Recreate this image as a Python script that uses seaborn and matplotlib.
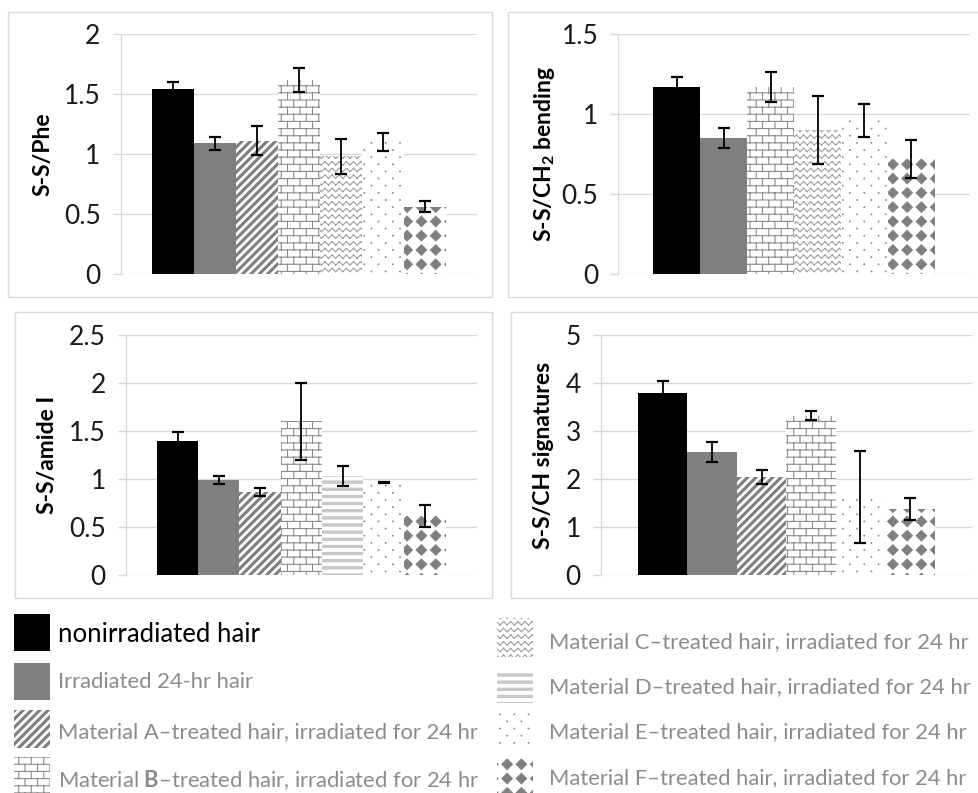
import numpy as np
import pandas as pd
import matplotlib
matplotlib.use("Agg")
import matplotlib.pyplot as plt
import matplotlib.hatch as mhatch
from matplotlib.path import Path
from matplotlib.patches import Rectangle
from matplotlib.ticker import FuncFormatter
import seaborn as sns

# ---------------- data ----------------
phe_groups = ["nonirradiated", "irradiated", "A", "B", "C", "E", "F"]
phe_vals = [1.54, 1.09, 1.11, 1.62, 0.98, 1.10, 0.56]
phe_errs = [0.06, 0.055, 0.12, 0.10, 0.145, 0.075, 0.045]

ch2_groups = ["nonirradiated", "irradiated", "B", "C", "E", "F"]
ch2_vals = [1.17, 0.85, 1.17, 0.90, 0.96, 0.72]
ch2_errs = [0.06, 0.06, 0.095, 0.21, 0.105, 0.12]

amide_groups = ["nonirradiated", "irradiated", "A", "B", "D", "E", "F"]
amide_vals = [1.40, 0.99, 0.865, 1.60, 1.03, 0.96, 0.61]
amide_errs = [0.09, 0.04, 0.04, 0.40, 0.105, 0.006, 0.115]

ch_groups = ["nonirradiated", "irradiated", "A", "B", "E", "F"]
ch_vals = [3.80, 2.56, 2.04, 3.32, 1.63, 1.37]
ch_errs = [0.25, 0.21, 0.15, 0.10, 0.96, 0.23]

ylabels = ["S-S/Phe", r"S-S/CH$_\mathbf{2}$ bending", "S-S/amide I", "S-S/CH signatures"]
ymaxes = [2.0, 1.5, 2.5, 5.0]
ysteps = [0.5, 0.5, 0.5, 1.0]

legend_left = ["nonirradiated", "irradiated", "A", "B"]
legend_right = ["C", "D", "E", "F"]
legend_text = {
    "nonirradiated": "nonirradiated hair",
    "irradiated": "Irradiated 24-hr hair",
    "A": "Material A\u2013treated hair, irradiated for 24 hr",
    "B": "Material $\\mathbf{B}$\u2013treated hair, irradiated for 24 hr",
    "C": "Material C\u2013treated hair, irradiated for 24 hr",
    "D": "Material D\u2013treated hair, irradiated for 24 hr",
    "E": "Material E\u2013treated hair, irradiated for 24 hr",
    "F": "Material F\u2013treated hair, irradiated for 24 hr",
}

# ---------------- styles ----------------
styles = {
    "nonirradiated": dict(fc="#000000", hatch=None, hc="#000000"),
    "irradiated": dict(fc="#7f7f7f", hatch=None, hc="#7f7f7f"),
    "A": dict(fc="white", hatch="/", hc="#7f7f7f"),
    "B": dict(fc="white", hatch="|", hc="#8c8c8c"),
    "C": dict(fc="white", hatch="\\", hc="#a0a0a0"),
    "D": dict(fc="white", hatch="-", hc="#c8c8c8"),
    "E": dict(fc="white", hatch=".", hc="#8c8c8c"),
    "F": dict(fc="white", hatch="*", hc="#7f7f7f"),
}


# ---------------- custom hatch tiles ----------------
def _polys(polys):
    vs, cs = [], []
    for p in polys:
        p = np.asarray(p, float)
        vs.append(np.vstack([p, p[:1]]))
        c = np.full(len(p) + 1, Path.LINETO, dtype=Path.code_type)
        c[0] = Path.MOVETO
        c[-1] = Path.CLOSEPOLY
        cs.append(c)
    return np.vstack(vs), np.concatenate(cs)


def _segs(segs):
    v = np.asarray(segs, float).reshape(-1, 2)
    c = np.tile(np.array([Path.MOVETO, Path.LINETO], dtype=Path.code_type), len(segs))
    return v, c


class _TileHatch(mhatch.HatchPatternBase):
    char = ""

    def __init__(self, hatch, density):
        self.num_vertices = 0
        if self.char and self.char in hatch:
            self._v, self._c = self.build()
            self.num_vertices = len(self._v)

    def set_vertices_and_codes(self, vertices, codes):
        vertices[:] = self._v
        codes[:] = self._c


class StripeHatch(_TileHatch):
    char = "/"

    def build(self):
        n, d, e = 12, 0.014, 0.1
        polys = []
        for k in range(-n - 2, n + 3):
            s = k / n
            polys.append([(s - d - e, -e), (s + d - e, -e),
                          (s + d + 1 + e, 1 + e), (s - d + 1 + e, 1 + e)])
        return _polys(polys)


class BrickHatch(_TileHatch):
    char = "|"

    def build(self):
        R, C = 14, 8
        segs = [((-0.05, r / R), (1.05, r / R)) for r in range(R + 1)]
        for r in range(R):
            sh = 0.5 if r % 2 else 0.0
            for c in range(-1, C + 2):
                x = (c + sh) / C
                segs.append(((x, r / R), (x, (r + 1) / R)))
        return _segs(segs)


class ZigzagHatch(_TileHatch):
    char = "\\"

    def build(self):
        R, P, a = 15, 14, 0.017
        segs = []
        for r in range(-1, R + 1):
            y0 = (r + 0.5) / R
            for p in range(-1, P + 1):
                x0, xm, x1 = p / P, (p + 0.5) / P, (p + 1) / P
                segs.append(((x0, y0 - a), (xm, y0 + a)))
                segs.append(((xm, y0 + a), (x1, y0 - a)))
        return _segs(segs)


class HLineHatch(_TileHatch):
    char = "-"

    def build(self):
        R, h = 14, 0.011
        polys = []
        for r in range(-1, R + 1):
            y = (r + 0.5) / R
            polys.append([(-0.05, y - h), (1.05, y - h), (1.05, y + h), (-0.05, y + h)])
        return _polys(polys)


class DotHatch(_TileHatch):
    char = "."

    def build(self):
        N, rr = 7, 0.004
        ang = np.linspace(0, 2 * np.pi, 8, endpoint=False)
        base = np.c_[np.cos(ang), np.sin(ang)] * rr
        polys = []
        for i in range(-1, N + 2):
            for j in range(-1, N + 2):
                polys.append(base + [i / N, j / N])
                polys.append(base + [(i + 0.5) / N, (j + 0.5) / N])
        return _polys(polys)


class DiamondHatch(_TileHatch):
    char = "*"

    def build(self):
        N, rr = 7, 0.052
        base = np.array([(rr, 0), (0, rr), (-rr, 0), (0, -rr)])
        polys = []
        for i in range(-1, N + 2):
            for j in range(-1, N + 2):
                polys.append(base + [(i + 0.5) / N, (j + 0.5) / N])
        return _polys(polys)


mhatch._hatch_types = [StripeHatch, BrickHatch, ZigzagHatch, HLineHatch, DotHatch, DiamondHatch]

# ---------------- theme ----------------
sns.set_theme(style="white")
plt.rcParams["font.family"] = ["Lato", "DejaVu Sans"]
plt.rcParams["hatch.linewidth"] = 0.8
plt.rcParams["mathtext.fontset"] = "custom"
plt.rcParams["mathtext.rm"] = "Lato"
plt.rcParams["mathtext.bf"] = "Lato:bold"
plt.rcParams["mathtext.it"] = "Lato:italic"

W, H = 979, 793
fig = plt.figure(figsize=(W / 100, H / 100), dpi=100)

# layout (pixels from top-left)
panel_boxes = [(8, 12, 491.7, 296.7), (508.3, 12, 990, 296.7),
               (15, 312, 491.7, 598.3), (510.7, 312, 990, 598.3)]
axes_px = [(120.7, 34, 477, 274), (618.3, 34, 970, 274),
           (126, 335, 476.7, 575), (601, 335, 971.7, 575)]
label_right_px = [53, 557, 58, 554]

ax_bg = fig.add_axes([0, 0, 1, 1], zorder=0)
ax_bg.set_xlim(0, W)
ax_bg.set_ylim(H, 0)
ax_bg.axis("off")
for (x0, y0, x1, y1) in panel_boxes:
    ax_bg.add_patch(Rectangle((x0, y0), x1 - x0, y1 - y0, fill=False,
                              ec="#d9d9d9", lw=1.0, clip_on=False))

panel_data = [(phe_groups, phe_vals, phe_errs), (ch2_groups, ch2_vals, ch2_errs),
              (amide_groups, amide_vals, amide_errs), (ch_groups, ch_vals, ch_errs)]

grid_c = "#d9d9d9"
for k, (groups, vals, errs) in enumerate(panel_data):
    l, t, r, b = axes_px[k]
    ax = fig.add_axes([l / W, 1 - b / H, (r - l) / W, (b - t) / H], zorder=1)
    df = pd.DataFrame({"group": groups, "value": vals})
    sns.barplot(data=df, x="group", y="value", hue="group", order=groups,
                hue_order=groups, palette={g: styles[g]["fc"] for g in groups},
                width=1.0, errorbar=None, legend=False, linewidth=0,
                saturation=1, ax=ax)
    for p in ax.patches:
        idx = int(round(p.get_x() + p.get_width() / 2))
        st = styles[groups[idx]]
        p.set_facecolor(st["fc"])
        p.set_edgecolor(st["hc"])
        p.set_linewidth(0)
        if st["hatch"]:
            p.set_hatch(st["hatch"])
    ax.errorbar(np.arange(len(groups)), vals, yerr=errs, fmt="none",
                ecolor="black", elinewidth=1.3, capsize=4.5, capthick=1.6, zorder=4)
    n = len(groups)
    ax.set_xlim(-0.5 - 0.75, n - 0.5 + 0.75)
    ax.set_ylim(0, ymaxes[k])
    ax.set_yticks(np.arange(0, ymaxes[k] + 1e-9, ysteps[k]))
    ax.yaxis.set_major_formatter(FuncFormatter(lambda v, pos: f"{v:g}"))
    ax.set_xticks([])
    ax.set_xlabel("")
    ax.set_ylabel(ylabels[k], fontsize=16.5, fontweight="bold", color="black")
    ax.yaxis.set_label_coords((label_right_px[k] - l) / (r - l), 0.5)
    ax.set_axisbelow(True)
    ax.yaxis.grid(True, color=grid_c, lw=1.0)
    ax.patch.set_alpha(0)
    for s in ["top", "right", "bottom"]:
        ax.spines[s].set_visible(False)
    ax.spines["left"].set_color(grid_c)
    ax.spines["left"].set_linewidth(1.0)
    ax.tick_params(axis="y", length=5.5, width=1.0, color=grid_c, labelsize=19,
                   labelcolor="#1a1a1a", pad=9, left=True)

# ---------------- legend ----------------
leg_layout_left = [(614, 37, 634), (663, 37, 682), (710, 38, 732), (757, 38, 780)]
leg_layout_right = [(618, 39, 642), (670, 33, 687), (713, 35, 732), (758, 36, 778)]
text_gray = "#8c8c8c"
for keys, lay, ix, tx in [(legend_left, leg_layout_left, 14, 58),
                          (legend_right, leg_layout_right, 497, 549)]:
    for g, (iy, ih, ty) in zip(keys, lay):
        st = styles[g]
        ax_bg.add_patch(Rectangle((ix, iy), 36, ih, fc=st["fc"], ec=st["hc"], lw=0,
                                  hatch=st["hatch"], clip_on=False))
        if g == "nonirradiated":
            ax_bg.text(tx, ty, legend_text[g], fontsize=18.5, color="black",
                       va="center", ha="left")
        else:
            ax_bg.text(tx, ty, legend_text[g], fontsize=15.8, color=text_gray,
                       va="center", ha="left")

fig.savefig("out.png", dpi=100)
